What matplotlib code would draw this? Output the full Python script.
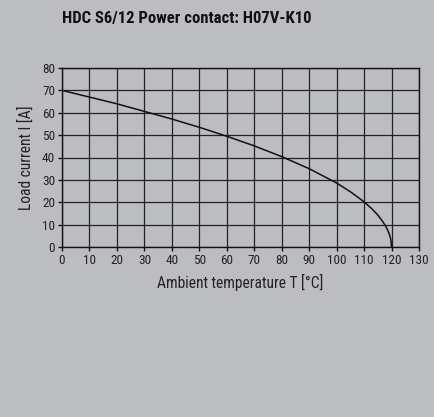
import matplotlib
matplotlib.use("Agg")
import matplotlib.pyplot as plt

plt.rcParams['font.family'] = ['Roboto Condensed', 'Liberation Sans Narrow', 'Liberation Sans', 'DejaVu Sans']

title = "HDC S6/12 Power contact: H07V-K10"
xlabel = "Ambient temperature T [°C]"
ylabel = "Load current I [A]"
temperature = [0, 10, 20, 30, 40, 50, 60, 70, 80, 90, 100, 105, 110, 113, 115, 117, 118, 119, 119.5, 119.8, 120]
current = [70, 67, 64, 60.6, 57.2, 53.5, 49.5, 45.2, 40.4, 35.0, 28.6, 24.7, 20.2, 16.9, 14.3, 11.0, 9.0, 6.4, 4.5, 2.9, 0]
xticks = list(range(0, 131, 10))
yticks = list(range(0, 81, 10))

bg = '#bcbdc0'
fig = plt.figure(figsize=(4.35, 4.17), dpi=100, facecolor=bg)
ax = fig.add_axes([62/435, 1-247/417, 357/435, 179/417])
ax.set_facecolor(bg)
ax.plot(temperature, current, color='#111111', lw=1.1)
ax.set_xlim(0, 130)
ax.set_ylim(0, 80)
ax.set_xticks(xticks)
ax.set_yticks(yticks)
ax.grid(True, color='#222222', lw=0.9)
for s in ax.spines.values():
    s.set_color('#111111')
    s.set_linewidth(1.0)
ax.tick_params(direction='out', length=3, width=1, colors='#111111', labelsize=9.5, pad=2, labelcolor='#222222')
ax.set_xlabel(xlabel, fontsize=11.2, color='#222222', labelpad=5)
ax.set_ylabel(ylabel, fontsize=11.2, color='#222222', labelpad=6)
fig.text(62/435, 1-18/417, title, fontsize=12, fontweight='bold', color='#111111', va='center', ha='left')
fig.savefig('out.png', dpi=100, facecolor=bg)
